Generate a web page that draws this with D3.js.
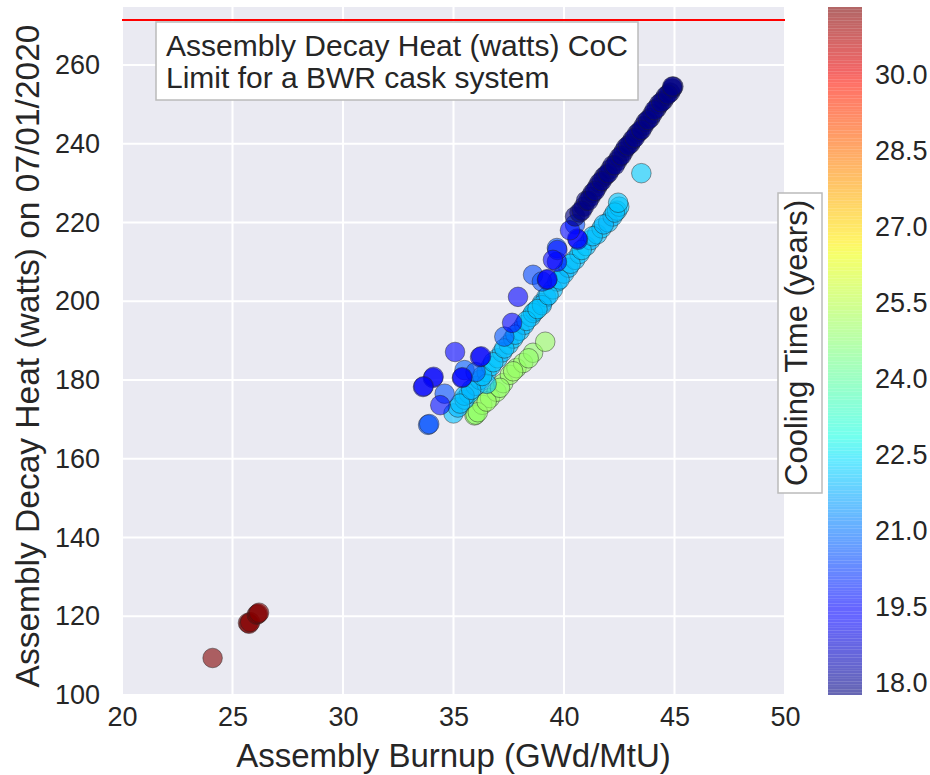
<!DOCTYPE html>
<html>
<head>
<meta charset="utf-8">
<script src="https://cdn.jsdelivr.net/npm/d3@7"></script>
<style>
  body { margin: 0; background: #fff; }
  svg text { font-family: "Liberation Sans", Arial, sans-serif; fill: #262626; }
</style>
</head>
<body>
<svg id="chart"></svg>
<script>
// assembly burnup (GWd/MtU), group by group
const burnup = [
  // ~31 years
  24.1, 25.7, 25.75, 25.8, 26.1, 26.15, 26.2,
  // ~25 years
  35.95, 36.0, 36.3, 36.65, 36.95, 37.25, 37.55, 37.85, 38.15, 38.6, 39.15,
  36.1, 36.5, 37.1, 37.7, 38.4,
  // ~22 years
  35.0, 35.2, 35.5, 35.7, 36.0, 36.2, 36.5, 36.7, 37.0, 37.2, 37.5, 37.7,
  38.0, 38.2, 38.5, 38.7, 39.0, 39.2, 39.5, 39.7, 40.0, 40.2, 40.5, 40.7,
  41.0, 41.2, 41.5, 41.7, 42.0, 42.2, 42.4, 42.5, 43.5, 38.6, 39.0, 36.5, 35.5,
  35.3, 35.8, 36.3, 36.8, 37.3, 37.8, 38.3, 38.8, 39.3, 39.8, 40.3, 40.8,
  41.3, 41.8, 42.3, 42.45,
  // ~20.5 years
  33.85, 33.9, 38.6, 39.68, 40.5, 35.5, 36.0, 34.6, 37.3, 39.0,
  // ~19.3 years
  40.63, 40.6, 39.23, 39.25, 39.68, 34.07, 34.1, 33.62, 33.65, 36.2, 36.25,
  35.38, 35.4, 34.4, 40.27, 39.7, 39.5, 37.92, 35.07, 37.65,
  // ~18 years
  40.5, 40.7, 40.9, 41.0, 41.2, 41.3, 41.5, 41.6, 41.8, 41.9, 42.1, 42.2,
  42.4, 42.5, 42.7, 42.8, 43.0, 43.1, 43.3, 43.4, 43.6, 43.7, 43.9, 44.0,
  44.2, 44.3, 44.5, 44.6, 44.8, 44.9, 44.95,
  40.8, 41.1, 41.4, 41.7, 42.0, 42.3, 42.6, 42.9, 43.2, 43.5, 43.8, 44.1,
  44.4, 44.7, 44.9
];
// assembly decay heat (watts) on 07/01/2020
const decayHeat = [
  109.4, 118.3, 118.1, 118.5, 120.4, 120.6, 120.9,
  171.0, 171.2, 173.7, 175.4, 177.0, 179.2, 181.3, 183.0, 184.3, 186.9, 189.7,
  171.8, 174.5, 178.0, 182.2, 185.5,
  171.5, 173.0, 175.0, 176.5, 178.5, 180.0, 182.0, 183.5, 185.5, 187.0, 189.0, 190.5,
  192.5, 194.0, 196.0, 197.5, 199.5, 201.0, 203.0, 205.0, 207.0, 208.5, 210.5, 212.0,
  214.0, 215.5, 217.0, 218.5, 220.0, 221.5, 223.0, 224.0, 232.5, 197.0, 199.0, 179.0, 176.0,
  174.0, 177.5, 181.0, 184.5, 188.0, 191.5, 195.0, 198.0, 201.5, 205.5, 209.5, 213.0,
  216.5, 219.5, 222.5, 225.0,
  168.6, 168.8, 206.7, 213.5, 219.5, 182.5, 182.0, 176.5, 191.0, 205.0,
  215.6, 215.9, 205.4, 205.6, 210.0, 180.5, 180.8, 178.2, 178.4, 185.8, 186.0,
  180.5, 180.7, 173.6, 218.0, 213.0, 210.5, 201.1, 187.1, 194.5,
  221.5, 222.5, 224.0, 225.5, 226.5, 227.5, 229.0, 230.0, 231.5, 232.0, 233.5, 234.5,
  235.5, 236.5, 238.0, 239.0, 240.0, 241.0, 242.5, 243.0, 244.5, 245.5, 246.5, 247.5,
  249.0, 250.0, 251.0, 252.0, 253.0, 254.0, 254.5,
  223.0, 225.5, 228.0, 230.5, 232.5, 234.5, 237.0, 239.5, 241.5, 243.5, 246.0, 248.5,
  250.5, 252.5, 254.5
];
// cooling time (years)
const coolingTime = [
  31.34, 31.3, 31.3, 31.3, 31.3, 31.3, 31.3,
  24.9, 24.9, 25.0, 24.9, 25.0, 24.9, 25.0, 24.9, 25.0, 24.9, 25.0,
  24.9, 25.0, 24.9, 25.0, 24.9,
  22.0, 21.9, 22.0, 22.1, 22.0, 21.9, 22.0, 22.1, 22.0, 21.9, 22.0, 22.1,
  22.0, 21.9, 22.0, 22.1, 22.0, 21.9, 22.0, 22.1, 22.0, 21.9, 22.0, 22.1,
  22.0, 21.9, 22.0, 22.1, 22.0, 21.9, 22.0, 22.1, 22.2, 22.0, 21.9, 22.0, 21.9,
  22.0, 21.9, 22.0, 22.1, 22.0, 21.9, 22.0, 22.1, 22.0, 21.9, 22.0, 22.1,
  22.0, 21.9, 22.0, 22.1,
  20.6, 20.5, 20.4, 20.6, 20.5, 20.7, 20.6, 20.5, 20.6, 20.5,
  19.3, 19.3, 19.3, 19.2, 19.4, 19.3, 19.2, 19.3, 19.2, 19.3, 19.2,
  19.3, 19.4, 19.6, 19.5, 19.6, 19.5, 19.4, 19.3, 19.4,
  17.76, 17.8, 17.8, 17.9, 17.8, 17.8, 17.9, 17.8, 17.8, 17.9, 17.8, 17.8,
  17.9, 17.8, 17.8, 17.9, 17.8, 17.8, 17.9, 17.8, 17.8, 17.9, 17.8, 17.8,
  17.9, 17.8, 17.8, 17.9, 17.8, 17.8, 17.8,
  17.8, 17.8, 17.9, 17.8, 17.8, 17.9, 17.8, 17.8, 17.9, 17.8, 17.8, 17.9,
  17.8, 17.8, 17.8
];

const xTicks = [20, 25, 30, 35, 40, 45, 50];
const yTicks = [100, 120, 140, 160, 180, 200, 220, 240, 260];
const cbTicks = [18.0, 19.5, 21.0, 22.5, 24.0, 25.5, 27.0, 28.5, 30.0];
const heatLimit = 271.4;
const noteLines = ['Assembly Decay Heat (watts) CoC', 'Limit for a BWR cask system'];

const W = 930, H = 775;
const plot = { left: 122, right: 785, top: 7, bottom: 695 };
const cbar = { left: 828, right: 862 };

const svg = d3.select('#chart').attr('width', W).attr('height', H);

const x = d3.scaleLinear().domain([20, 50]).range([plot.left, plot.right]);
const y = d3.scaleLinear().domain([100, 274.7]).range([plot.bottom, plot.top]);

// matplotlib "jet" colormap, one linear scale per channel
const jetR = d3.scaleLinear().domain([0, 0.35, 0.66, 0.89, 1]).range([0, 0, 1, 1, 0.5]);
const jetG = d3.scaleLinear().domain([0, 0.125, 0.375, 0.64, 0.91, 1]).range([0, 0, 1, 1, 0, 0]);
const jetB = d3.scaleLinear().domain([0, 0.11, 0.34, 0.65, 1]).range([0.5, 1, 1, 0, 0]);
const jet = (t) => d3.rgb(jetR(t) * 255, jetG(t) * 255, jetB(t) * 255).toString();

const cExtent = d3.extent(coolingTime);
const cNorm = d3.scaleLinear().domain(cExtent).range([0, 1]).clamp(true);
const color = (v) => jet(cNorm(v));

// background + grid
svg.append('rect')
  .attr('x', plot.left).attr('y', plot.top)
  .attr('width', plot.right - plot.left).attr('height', plot.bottom - plot.top)
  .attr('fill', '#EAEAF2');

const grid = svg.append('g');
grid.selectAll('.gx').data(xTicks).join('line')
  .attr('x1', (d) => x(d)).attr('x2', (d) => x(d))
  .attr('y1', plot.top).attr('y2', plot.bottom)
  .attr('stroke', '#fff').attr('stroke-width', 2);
grid.selectAll('.gy').data(yTicks).join('line')
  .attr('x1', plot.left).attr('x2', plot.right)
  .attr('y1', (d) => y(d)).attr('y2', (d) => y(d))
  .attr('stroke', '#fff').attr('stroke-width', 2);

// axes (labels only, seaborn darkgrid has no spines / tick marks)
const xAxis = svg.append('g')
  .attr('transform', `translate(0,${plot.bottom})`)
  .call(d3.axisBottom(x).tickValues(xTicks).tickSize(0).tickPadding(12).tickFormat(d3.format('d')));
const yAxis = svg.append('g')
  .attr('transform', `translate(${plot.left},0)`)
  .call(d3.axisLeft(y).tickValues(yTicks).tickSize(0).tickPadding(22).tickFormat(d3.format('d')));
[xAxis, yAxis].forEach((a) => {
  a.select('.domain').remove();
  a.selectAll('text').attr('font-size', 27).attr('font-family', null).attr('fill', '#262626');
});

// points
const pts = burnup.map((b, i) => ({ b, h: decayHeat[i], c: coolingTime[i] }));
svg.append('g').selectAll('circle').data(pts).join('circle')
  .attr('cx', (d) => x(d.b))
  .attr('cy', (d) => y(d.h))
  .attr('r', 9.8)
  .attr('fill', (d) => color(d.c))
  .attr('fill-opacity', 0.6)
  .attr('stroke', '#222')
  .attr('stroke-opacity', 0.45)
  .attr('stroke-width', 1);

// CoC limit line
svg.append('line')
  .attr('x1', plot.left).attr('x2', plot.right)
  .attr('y1', y(heatLimit)).attr('y2', y(heatLimit))
  .attr('stroke', '#ff0000').attr('stroke-width', 2);

// annotation box
const note = svg.append('g');
note.append('rect')
  .attr('x', 156).attr('y', 22).attr('width', 482).attr('height', 78)
  .attr('fill', '#fff').attr('stroke', '#bbb').attr('stroke-width', 1.5);
note.selectAll('text').data(noteLines).join('text')
  .attr('x', 166).attr('y', (d, i) => 56 + i * 32)
  .attr('font-size', 30)
  .text((d) => d);

// axis titles
svg.append('text')
  .attr('x', (plot.left + plot.right) / 2).attr('y', 767)
  .attr('text-anchor', 'middle').attr('font-size', 33)
  .text('Assembly Burnup (GWd/MtU)');
svg.append('text')
  .attr('transform', `translate(39,356) rotate(-90)`)
  .attr('text-anchor', 'middle').attr('font-size', 33.5)
  .text('Assembly Decay Heat (watts) on 07/01/2020');

// colorbar
const cy = d3.scaleLinear().domain(cExtent).range([plot.bottom, plot.top]);
const bands = d3.range(0, 256);
const bandH = (plot.bottom - plot.top) / bands.length;
svg.append('g').selectAll('rect').data(bands).join('rect')
  .attr('x', cbar.left).attr('width', cbar.right - cbar.left)
  .attr('y', (d) => plot.bottom - (d + 1) * bandH)
  .attr('height', bandH)
  .attr('fill', (d) => jet(d / 255))
  .attr('fill-opacity', 0.6);

const cAxis = svg.append('g')
  .attr('transform', `translate(${cbar.right},0)`)
  .call(d3.axisRight(cy).tickValues(cbTicks).tickSize(0).tickPadding(13).tickFormat(d3.format('.1f')));
cAxis.select('.domain').remove();
cAxis.selectAll('text').attr('font-size', 27).attr('font-family', null).attr('fill', '#262626');

// colorbar label in a boxed frame
const cl = svg.append('g');
cl.append('rect')
  .attr('x', 778).attr('y', 193).attr('width', 44).attr('height', 300)
  .attr('fill', '#fff').attr('stroke', '#bbb').attr('stroke-width', 1.5);
cl.append('text')
  .attr('transform', 'translate(807,343) rotate(-90)')
  .attr('text-anchor', 'middle').attr('font-size', 31)
  .text('Cooling Time (years)');
</script>
</body>
</html>
